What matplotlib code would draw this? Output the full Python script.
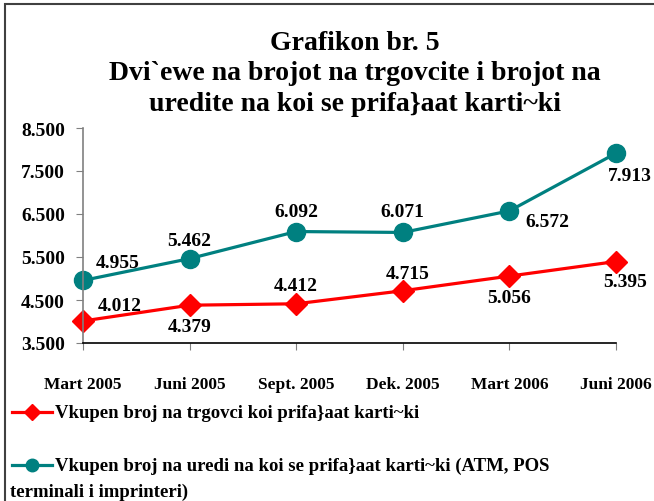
import matplotlib
matplotlib.use("Agg")
import matplotlib.pyplot as plt
from matplotlib.lines import Line2D
from matplotlib.patches import Rectangle

# podatoci
periodi = ['Mart 2005', 'Juni 2005', 'Sept. 2005', 'Dek. 2005', 'Mart 2006', 'Juni 2006']
trgovci = [4012, 4379, 4412, 4715, 5056, 5395]
uredi = [4955, 5462, 6092, 6071, 6572, 7913]
yticks = [3500, 4500, 5500, 6500, 7500, 8500]
ime_trgovci = 'Vkupen broj na trgovci koi prifa}aat karti~ki'
ime_uredi = 'Vkupen broj na uredi na koi se prifa}aat karti~ki (ATM, POS'
ime_uredi2 = 'terminali i imprinteri)'
naslov = 'Grafikon br. 5\nDvi`ewe na brojot na trgovcite i brojot na\nuredite na koi se prifa}aat karti~ki'

# pomestuvanja na etiketite (pikseli)
off_trgovci = [(37, 15), (0, -21), (0, 18), (5, 17), (0, -21), (9, -20)]
off_uredi = [(35, 18), (0, 18), (0, 20), (0, 21), (38, -11), (14, -22)]

FONT = dict(family='Liberation Serif', fontweight='bold')
CRVENA = '#FF0000'
TIRKIZ = '#008080'

fig = plt.figure(figsize=(6.54, 5.02), dpi=100)
fig.patches.append(Rectangle((5 / 654, -0.1), 1.2, 1 - 5 / 502 + 0.1, transform=fig.transFigure,
                             fill=False, edgecolor='#404040', linewidth=1.5))
ax = fig.add_axes([83 / 654, 1 - 344 / 502, (616 - 83) / 654, (344 - 129) / 502])

x = list(range(len(periodi)))
l1, = ax.plot(x, trgovci, color=CRVENA, lw=2.3, marker='D', markersize=11, clip_on=False)
l2, = ax.plot(x, uredi, color=TIRKIZ, lw=2.3, marker='o', markersize=13, clip_on=False)

for xi, v, o in zip(x, trgovci, off_trgovci):
    ax.annotate(f'{v:,}'.replace(',', '.'), (xi, v), xytext=o, textcoords='offset pixels',
                ha='center', va='center', fontsize=14, **FONT)
for xi, v, o in zip(x, uredi, off_uredi):
    ax.annotate(f'{v:,}'.replace(',', '.'), (xi, v), xytext=o, textcoords='offset pixels',
                ha='center', va='center', fontsize=14, **FONT)

ax.set_xlim(0, 5)
ax.set_ylim(3500, 8500)
ax.set_xticks(x)
ax.set_xticklabels(periodi, **FONT, fontsize=12.5)
ax.set_yticks(yticks)
ax.set_yticklabels([f'{v:,}'.replace(',', '.') for v in yticks], **FONT, fontsize=14)
for s in ['top', 'right']:
    ax.spines[s].set_visible(False)
ax.spines['left'].set_color('#808080')
ax.spines['left'].set_linewidth(1.2)
ax.spines['bottom'].set_linewidth(1.2)
ax.tick_params(axis='y', length=5, colors='#808080', labelcolor='black', pad=8)
ax.tick_params(axis='x', length=5, pad=19, color='#808080')

fig.text(355 / 654, 1 - 74 / 502, naslov, ha='center', va='center', fontsize=20,
         linespacing=1.3, **FONT)

# legenda
for yy, boja, mk, ms, ime in [(413, CRVENA, 'D', 8, ime_trgovci), (466, TIRKIZ, 'o', 9, ime_uredi)]:
    fig.add_artist(Line2D([12 / 654, 52 / 654], [1 - yy / 502] * 2, color=boja, lw=2.3,
                          transform=fig.transFigure))
    fig.add_artist(Line2D([32 / 654], [1 - yy / 502], color=boja, marker=mk, markersize=ms,
                          transform=fig.transFigure))
    fig.text(55 / 654, 1 - yy / 502, ime, ha='left', va='center', fontsize=13.5, **FONT)
fig.text(10 / 654, 1 - 492 / 502, ime_uredi2, ha='left', va='center', fontsize=13.5, **FONT)

fig.savefig('out.png', dpi=100)
